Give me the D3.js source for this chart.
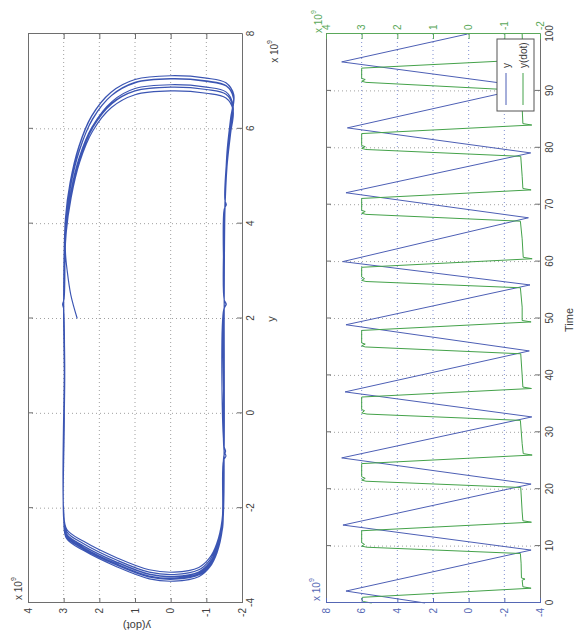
<!DOCTYPE html>
<html><head><meta charset="utf-8">
<script src="https://cdn.jsdelivr.net/npm/d3@7"></script>
<style>body{margin:0;background:#fff}svg{display:block}text{font-family:"Liberation Sans",Arial,sans-serif}</style>
</head><body><svg id="c" width="574" height="636"></svg>
<script>
// ---------- data (values in units of 1e9) ----------
const phaseXTicks = [-4, -2, 0, 2, 4, 6, 8];
const phaseYTicks = [-2, -1, 0, 1, 2, 3, 4];
const timeTicks = [0, 10, 20, 30, 40, 50, 60, 70, 80, 90, 100];
const yLeftTicks = [-4, -2, 0, 2, 4, 6, 8];
const yRightTicks = [-2, -1, 0, 1, 2, 3, 4];
const seriesNames = ["y", "y(dot)"];

// time series y
const yTime = [0, 2.1, 9.3, 13.7, 20.9, 25.5, 32.7, 37.1, 44.3, 48.9, 55.9, 60.0, 67.7, 72.1, 79.1, 83.5, 90.7, 95.1, 100];
const yVals = [2.45, 6.88, -3.50, 7.05, -3.50, 7.12, -3.54, 6.93, -3.40, 6.88, -3.44, 7.06, -3.35, 6.88, -3.48, 6.80, -3.45, 7.12, 0.06];

// time series y(dot)
const ydotTime = [0, 0.25, 0.6, 1.0, 2.6, 2.85, 4.0, 4.2, 4.4, 7.0, 8.7,
  9.8, 10.0, 10.3, 10.6, 12.7, 14.2, 14.45, 16, 20.3,
  21.4, 21.6, 21.9, 22.2, 24.5, 26.0, 26.25, 28, 32.1,
  33.2, 33.4, 33.8, 34.0, 36.2, 37.7, 37.95, 40, 43.8,
  45.0, 45.2, 45.5, 45.7, 47.9, 49.4, 49.65, 52, 55.4,
  56.5, 56.7, 57.0, 57.3, 59.0, 60.5, 60.75, 64, 67.1,
  68.3, 68.5, 68.8, 69.0, 71.1, 72.6, 72.85, 75, 78.5,
  79.7, 79.9, 80.2, 80.4, 82.5, 84.0, 84.25, 87, 90.1,
  91.5, 91.7, 92.0, 92.2, 94.0, 95.5, 95.75, 100];
const ydotVals = [2.72, 2.95, 3.0, 2.98, -1.75, -1.52, -1.5, -1.58, -1.48, -1.47, -1.45,
  2.85, 3.0, 2.92, 3.0, 3.0, -1.76, -1.52, -1.5, -1.46,
  2.88, 3.0, 2.9, 3.0, 3.0, -1.78, -1.53, -1.5, -1.45,
  2.85, 3.0, 2.92, 3.0, 3.0, -1.76, -1.52, -1.5, -1.46,
  2.9, 3.0, 2.9, 3.0, 3.0, -1.75, -1.5, -1.5, -1.45,
  2.88, 3.0, 2.92, 3.0, 3.0, -1.78, -1.53, -1.5, -1.45,
  2.88, 3.0, 2.9, 3.0, 3.0, -1.75, -1.52, -1.5, -1.46,
  2.88, 3.0, 2.9, 3.0, 3.0, -1.77, -1.52, -1.5, -1.46,
  2.88, 3.0, 2.9, 3.0, 3.0, -1.76, -1.52, -1.5];

// phase trajectory [y, y(dot)]
const phasePoints = [
  [2.0,2.62],[2.5,2.8],[3.0,2.9],[3.4,2.95],
  [3.88,2.93],[4.63,2.8],[5.38,2.56],[6.03,2.2],[6.53,1.66],[6.8,1.0],[6.88,0],[6.83,-1.0],[6.73,-1.55],[6.48,-1.75],[5.98,-1.68],[5.28,-1.58],
  [4.4,-1.52],[2.4,-1.5],[2.3,-1.56],[2.2,-1.49],[-0.7,-1.5],[-0.8,-1.54],[-0.9,-1.49],
  [-2.4,-1.45],[-2.9,-1.3],[-3.2,-1.1],[-3.4,-0.8],[-3.5,-0.1],[-3.45,0.6],[-3.2,1.5],[-2.85,2.45],[-2.6,2.92],[-2.2,3.0],
  [0,2.98],[2.2,3.0],[2.3,3.03],[2.4,2.99],
  [4.05,2.94],[4.8,2.81],[5.55,2.56],[6.2,2.19],[6.7,1.66],[6.97,1.0],[7.05,0],[7.0,-1.0],[6.9,-1.56],[6.65,-1.76],[6.15,-1.68],[5.45,-1.58],
  [4.5,-1.52],[4.4,-1.56],[4.3,-1.5],[2.3,-1.5],[-0.8,-1.5],[-1.6,-1.47],
  [-2.4,-1.46],[-2.9,-1.31],[-3.2,-1.12],[-3.4,-0.82],[-3.5,-0.1],[-3.45,0.62],[-3.2,1.52],[-2.85,2.47],[-2.6,2.93],[-2.2,3.0],
  [1.0,2.97],[2.6,3.0],
  [4.12,2.95],[4.87,2.82],[5.62,2.58],[6.27,2.22],[6.77,1.68],[7.04,1.0],[7.12,0],[7.07,-1.0],[6.97,-1.55],[6.72,-1.77],[6.22,-1.69],[5.52,-1.59],
  [4.4,-1.52],[2.4,-1.5],[2.3,-1.55],[2.2,-1.49],[-0.5,-1.5],
  [-2.44,-1.45],[-2.94,-1.3],[-3.24,-1.1],[-3.44,-0.8],[-3.54,-0.1],[-3.49,0.6],[-3.24,1.5],[-2.89,2.45],[-2.64,2.92],[-2.24,3.0],
  [0.5,2.98],[2.5,3.0],
  [3.93,2.92],[4.68,2.78],[5.43,2.53],[6.08,2.17],[6.58,1.64],[6.85,1.0],[6.93,0],[6.88,-1.0],[6.78,-1.55],[6.53,-1.74],[6.03,-1.67],[5.33,-1.57],
  [4.2,-1.52],[1.5,-1.5],[-0.8,-1.5],[-0.9,-1.55],[-1.0,-1.48],
  [-2.3,-1.44],[-2.8,-1.29],[-3.1,-1.09],[-3.3,-0.79],[-3.4,-0.1],[-3.35,0.6],[-3.1,1.5],[-2.75,2.44],[-2.5,2.91],[-2.1,3.0],
  [1.0,2.98],[2.5,3.0],
  [3.88,2.94],[4.63,2.81],[5.38,2.57],[6.03,2.21],[6.53,1.67],[6.8,1.0],[6.88,0],[6.83,-1.0],[6.73,-1.55],[6.48,-1.75],[5.98,-1.68],[5.28,-1.58],
  [4.3,-1.52],[2.3,-1.5],[-0.5,-1.5],
  [-2.34,-1.45],[-2.84,-1.3],[-3.14,-1.1],[-3.34,-0.8],[-3.44,-0.1],[-3.39,0.6],[-3.14,1.5],[-2.79,2.45],[-2.54,2.92],[-2.14,3.0],
  [0.8,2.97],[2.6,3.0],
  [4.06,2.93],[4.81,2.8],[5.56,2.55],[6.21,2.19],[6.71,1.65],[6.98,1.0],[7.06,0],[7.01,-1.0],[6.91,-1.56],[6.66,-1.76],[6.16,-1.68],[5.46,-1.58],
  [4.4,-1.52],[2.4,-1.5],[2.3,-1.55],[2.2,-1.5],[-0.6,-1.5],
  [-2.25,-1.44],[-2.75,-1.29],[-3.05,-1.09],[-3.25,-0.79],[-3.35,-0.1],[-3.3,0.6],[-3.05,1.5],[-2.7,2.44],[-2.45,2.91],[-2.05,3.0],
  [1.2,2.98],[2.5,3.0],
  [3.88,2.92],[4.63,2.78],[5.38,2.54],[6.03,2.18],[6.53,1.65],[6.8,1.0],[6.88,0],[6.83,-1.0],[6.73,-1.55],[6.48,-1.74],[5.98,-1.67],[5.28,-1.57],
  [4.3,-1.52],[1.8,-1.5],[-0.6,-1.5],
  [-2.38,-1.45],[-2.88,-1.3],[-3.18,-1.1],[-3.38,-0.8],[-3.48,-0.1],[-3.43,0.6],[-3.18,1.5],[-2.83,2.45],[-2.58,2.92],[-2.18,3.0],
  [0.9,2.97],[2.4,3.0],
  [3.8,2.93],[4.55,2.79],[5.3,2.55],[5.95,2.19],[6.45,1.66],[6.72,1.0],[6.8,0],[6.75,-1.0],[6.65,-1.55],[6.4,-1.75],[5.9,-1.68],[5.2,-1.58],
  [4.2,-1.52],[2.3,-1.5],[-0.7,-1.5],
  [-2.35,-1.45],[-2.85,-1.3],[-3.15,-1.1],[-3.35,-0.8],[-3.45,-0.1],[-3.4,0.6],[-3.15,1.5],[-2.8,2.45],[-2.55,2.92],[-2.15,3.0],
  [1.0,2.98],[2.6,3.0],
  [4.12,2.94],[4.87,2.81],[5.62,2.57],[6.27,2.21],[6.77,1.67],[7.04,1.0],[7.12,0],[7.07,-1.0],[6.97,-1.55],[6.72,-1.76],[6.22,-1.68],[5.52,-1.58],
  [4.4,-1.52],[2.3,-1.5],[0.06,-1.5]
];

// ---------- drawing ----------
const svg = d3.select("#c");
svg.append("rect").attr("width", 574).attr("height", 636).attr("fill", "#fff");
// whole figure is drawn in landscape (636x574) and turned a quarter turn
const root = svg.append("g").attr("transform", "translate(0,636) rotate(-90)");

const FRAME = "#6e6e6e", GRID = "#a0a0a0", TXT = "#404040";
const BLUE = "#4d5fb5", GREEN = "#44a24a";
const BLUE_AX = "#5567b4", GREEN_AX = "#5aa85a";
const fmt = d => String(d);

function styleAxis(g, color, textColor, showText) {
  g.select(".domain").attr("stroke", color).attr("stroke-width", 1);
  g.selectAll(".tick line").attr("stroke", color);
  g.selectAll(".tick text").attr("fill", textColor).attr("font-size", 10)
    .attr("font-family", '"Liberation Sans",Arial,sans-serif')
    .style("display", showText ? null : "none");
}

function expLabel(x, y, anchorEnd, color) {
  const t = root.append("text").attr("x", x).attr("y", y).attr("fill", color)
    .attr("font-size", 10).attr("text-anchor", anchorEnd ? "end" : "start");
  t.append("tspan").text("x 10");
  t.append("tspan").attr("dy", -6).attr("font-size", 7).text("9");
}

// ===== top: phase plot =====
const px = d3.scaleLinear().domain([-4, 8]).range([33, 602]);
const py = d3.scaleLinear().domain([-2, 4]).range([242, 28]);

const g1 = root.append("g");
g1.selectAll("line.gx").data(phaseXTicks.slice(1, -1)).join("line")
  .attr("x1", d => px(d)).attr("x2", d => px(d)).attr("y1", 28).attr("y2", 242)
  .attr("stroke", GRID).attr("stroke-dasharray", "1,3");
g1.selectAll("line.gy").data(phaseYTicks.slice(1, -1)).join("line")
  .attr("y1", d => py(d)).attr("y2", d => py(d)).attr("x1", 33).attr("x2", 602)
  .attr("stroke", GRID).attr("stroke-dasharray", "1,3");

g1.append("path").datum(phasePoints)
  .attr("d", d3.line().x(d => px(d[0])).y(d => py(d[1])).curve(d3.curveCatmullRom.alpha(0.5)))
  .attr("fill", "none").attr("stroke", "#3b55b3").attr("stroke-width", 1.15);

styleAxis(g1.append("g").attr("transform", "translate(0,242)")
  .call(d3.axisBottom(px).tickValues(phaseXTicks).tickSizeInner(-5).tickSizeOuter(0).tickPadding(5).tickFormat(fmt)), FRAME, TXT, true);
styleAxis(g1.append("g").attr("transform", "translate(0,28)")
  .call(d3.axisTop(px).tickValues(phaseXTicks).tickSizeInner(-5).tickSizeOuter(0).tickFormat(fmt)), FRAME, TXT, false);
styleAxis(g1.append("g").attr("transform", "translate(33,0)")
  .call(d3.axisLeft(py).tickValues(phaseYTicks).tickSizeInner(-5).tickSizeOuter(0).tickPadding(5).tickFormat(fmt)), FRAME, TXT, true);
styleAxis(g1.append("g").attr("transform", "translate(602,0)")
  .call(d3.axisRight(py).tickValues(phaseYTicks).tickSizeInner(-5).tickSizeOuter(0).tickFormat(fmt)), FRAME, TXT, false);

root.append("text").attr("x", 317).attr("y", 275).attr("text-anchor", "middle")
  .attr("font-size", 11).attr("fill", TXT).text(seriesNames[0]);
root.append("text").attr("transform", "translate(14,137) rotate(-90)").attr("text-anchor", "middle")
  .attr("font-size", 11).attr("fill", TXT).text(seriesNames[1]);
expLabel(36, 22, false, TXT);
expLabel(596, 278, true, TXT);

// ===== bottom: time series (two y axes) =====
const tx = d3.scaleLinear().domain([0, 100]).range([33, 602]);
const yl = d3.scaleLinear().domain([-4, 8]).range([540, 326]);
const yr = d3.scaleLinear().domain([-2, 4]).range([540, 326]);

const g2 = root.append("g");
g2.selectAll("line.gt").data(timeTicks.slice(1, -1)).join("line")
  .attr("x1", d => tx(d)).attr("x2", d => tx(d)).attr("y1", 326).attr("y2", 540)
  .attr("stroke", GRID).attr("stroke-dasharray", "1,3");
g2.selectAll("line.gv").data(yLeftTicks.slice(1, -1)).join("line")
  .attr("y1", d => yl(d)).attr("y2", d => yl(d)).attr("x1", 33).attr("x2", 602)
  .attr("stroke", "#7f8fd0").attr("stroke-dasharray", "1,3");

g2.append("path").datum(yTime.map((t, i) => [t, yVals[i]]))
  .attr("d", d3.line().x(d => tx(d[0])).y(d => yl(d[1])))
  .attr("fill", "none").attr("stroke", BLUE).attr("stroke-width", 1);
g2.append("path").datum(ydotTime.map((t, i) => [t, ydotVals[i]]))
  .attr("d", d3.line().x(d => tx(d[0])).y(d => yr(d[1])))
  .attr("fill", "none").attr("stroke", GREEN).attr("stroke-width", 1);

styleAxis(g2.append("g").attr("transform", "translate(0,540)")
  .call(d3.axisBottom(tx).tickValues(timeTicks).tickSizeInner(-5).tickSizeOuter(0).tickPadding(6).tickFormat(fmt)), FRAME, TXT, true);
styleAxis(g2.append("g").attr("transform", "translate(0,326)")
  .call(d3.axisTop(tx).tickValues(timeTicks).tickSizeInner(-5).tickSizeOuter(0).tickFormat(fmt)), FRAME, TXT, false);
styleAxis(g2.append("g").attr("transform", "translate(33,0)")
  .call(d3.axisLeft(yl).tickValues(yLeftTicks).tickSizeInner(-5).tickSizeOuter(0).tickPadding(5).tickFormat(fmt)), BLUE_AX, BLUE_AX, true);
styleAxis(g2.append("g").attr("transform", "translate(602,0)")
  .call(d3.axisRight(yr).tickValues(yRightTicks).tickSizeInner(-5).tickSizeOuter(0).tickPadding(4).tickFormat(fmt)), GREEN_AX, GREEN_AX, true);

root.append("text").attr("x", 316).attr("y", 573).attr("text-anchor", "middle")
  .attr("font-size", 11).attr("fill", TXT).text("Time");
expLabel(35, 320, false, BLUE_AX);
expLabel(603, 322, false, GREEN_AX);

// legend
const lg = root.append("g");
lg.append("rect").attr("x", 525).attr("y", 497).attr("width", 72).attr("height", 37)
  .attr("fill", "#fff").attr("stroke", "#555").attr("stroke-width", 1);
const legendColors = [BLUE, GREEN];
seriesNames.forEach((name, i) => {
  const yy = 506 + i * 17;
  lg.append("line").attr("x1", 531).attr("x2", 563).attr("y1", yy).attr("y2", yy)
    .attr("stroke", legendColors[i]).attr("stroke-width", 1);
  lg.append("text").attr("x", 568).attr("y", yy + 3.5).attr("font-size", 10).attr("fill", TXT).text(name);
});
</script></body></html>
